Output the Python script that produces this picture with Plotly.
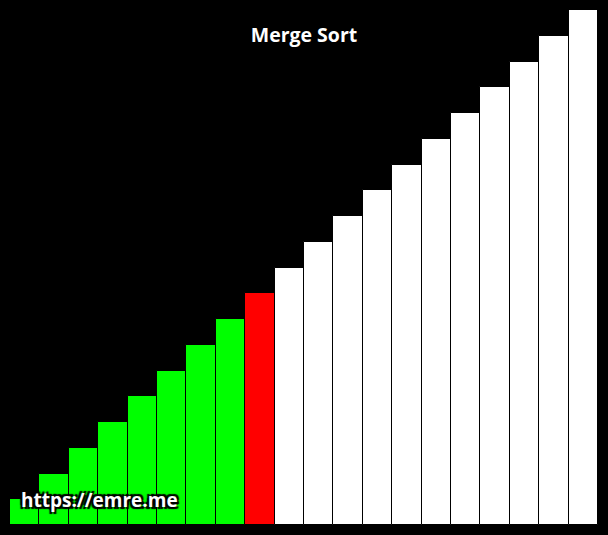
import plotly.graph_objects as go

values = list(range(1, 21))
positions = list(range(20))
colors = ["#00ff00"] * 8 + ["#ff0000"] + ["#ffffff"] * 11

fig = go.Figure()
fig.add_trace(go.Bar(
    x=positions, y=values,
    marker=dict(color=colors, line=dict(color="black", width=1)),
    hoverinfo="skip",
))
fig.update_layout(
    width=608, height=535,
    paper_bgcolor="black", plot_bgcolor="black",
    margin=dict(l=10, r=10, t=10, b=10),
    bargap=0,
    showlegend=False,
    xaxis=dict(visible=False, range=[-0.5, 19.5]),
    yaxis=dict(visible=False, range=[0, 20]),
    title=dict(text="<b>Merge Sort</b>", x=0.5, xanchor="center", y=1 - 35/535, yanchor="middle",
               font=dict(family="Open Sans", size=19.5, color="white")),
    annotations=[dict(
        text="<b>https://emre.me</b>", xref="paper", yref="paper",
        x=(19 - 10) / 588, y=(525 - 500) / 515, xanchor="left", yanchor="middle",
        showarrow=False,
        font=dict(family="Open Sans", size=19, color="white",
                  shadow="2px 2px 1px black, -2px -2px 1px black, 2px -2px 1px black, -2px 2px 1px black"),
    )],
)
fig.write_html("out.html")
